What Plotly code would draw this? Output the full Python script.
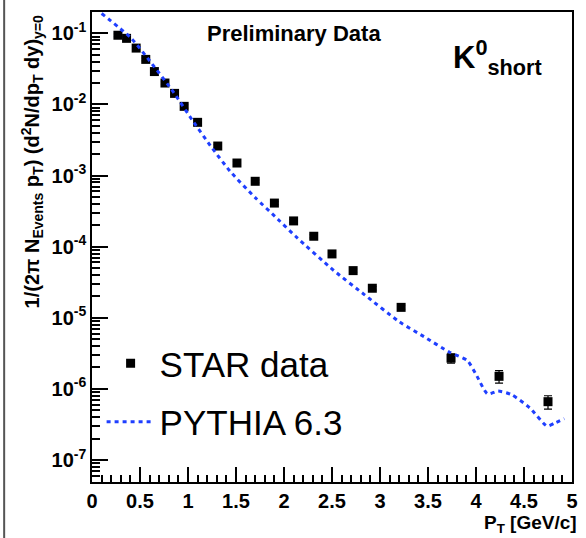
import plotly.graph_objects as go

# STAR data (K0short)
star_pt = [0.27, 0.36, 0.46, 0.56, 0.65, 0.76, 0.86, 0.96, 1.10, 1.31, 1.51, 1.70,
           1.90, 2.10, 2.31, 2.50, 2.72, 2.92, 3.22, 3.74, 4.24, 4.75]
star_y = [0.094, 0.085, 0.062, 0.043, 0.029, 0.020, 0.0143, 0.0094, 0.0056, 0.0026,
          0.0015, 0.00083, 0.00041, 0.00023, 1.4e-4, 7.9e-5, 4.6e-5, 2.6e-5, 1.4e-5,
          2.7e-6, 1.5e-6, 6.6e-7]
star_err = [0.004, 0.004, 0.003, 0.002, 0.0014, 0.001, 0.0007, 0.0005, 0.0003, 0.00013,
            0.00008, 0.00004, 0.00002, 0.00001, 7e-6, 4e-6, 2.5e-6, 1.5e-6, 0.9e-6,
            0.4e-6, 0.3e-6, 1.4e-7]

# PYTHIA 6.3 curve
py_pt = [0.10, 0.41, 0.62, 0.85, 1.06, 1.25, 1.45, 1.70, 1.94, 2.12, 2.52, 2.84,
         3.20, 3.46, 3.72, 3.91, 4.00, 4.12, 4.23, 4.37, 4.56, 4.74, 4.82, 4.92]
py_y = [0.19, 0.085, 0.038, 0.0148, 0.0056, 0.00245, 0.0011, 0.00049, 0.00024, 1.4e-4,
        4.6e-5, 2.1e-5, 8.8e-6, 5.4e-6, 3.3e-6, 2.5e-6, 1.6e-6, 8.5e-7, 9.3e-7, 8.3e-7,
        5.4e-7, 3.0e-7, 3.3e-7, 3.8e-7]

y_exponents = [-7, -6, -5, -4, -3, -2, -1]
y_all_vals = [m * 10.0 ** e for e in range(-8, 0) for m in range(1, 10)]
y_all_text = [("10<sup>%d</sup>" % e) if m == 1 else "" for e in range(-8, 0) for m in range(1, 10)]
y_major_vals = [10.0 ** e for e in y_exponents]
x_tickvals = [0, 0.5, 1, 1.5, 2, 2.5, 3, 3.5, 4, 4.5, 5]
x_ticktext = ["0", "0.5", "1", "1.5", "2", "2.5", "3", "3.5", "4", "4.5", "5"]

FONT = "Liberation Sans, Arial, sans-serif"
Y_RANGE = [-7.31, -0.70]

fig = go.Figure()
fig.add_trace(go.Scatter(
    x=star_pt, y=star_y, mode="markers", name="STAR data", legendgroup="a",
    marker=dict(symbol="square", size=9, color="black"),
    error_y=dict(type="data", array=star_err, color="black", thickness=1.2, width=4),
))
fig.add_trace(go.Scatter(
    x=py_pt, y=py_y, mode="lines", name="PYTHIA 6.3", legendgroup="b",
    line=dict(color="#1f3fff", width=3, dash="4px,4px", shape="spline", smoothing=0.6),
))
# invisible trace carrying the overlay axis for the long decade ticks
fig.add_trace(go.Scatter(
    x=star_pt, y=star_y, mode="markers", yaxis="y2", showlegend=False,
    hoverinfo="skip", marker=dict(opacity=0),
))

fig.update_layout(
    width=586, height=538,
    margin=dict(l=92, r=8, t=12, b=56),
    paper_bgcolor="white", plot_bgcolor="white",
    font=dict(family=FONT, color="black"),
    showlegend=True,
    legend=dict(x=0.02, y=0.315, xanchor="left", yanchor="top",
                font=dict(size=35, family=FONT), bgcolor="rgba(0,0,0,0)",
                tracegroupgap=10, itemwidth=48),
    xaxis=dict(
        range=[0, 5], showgrid=False, zeroline=False,
        showline=True, linecolor="black", linewidth=1.5, mirror=True,
        ticks="inside", ticklen=15, tickcolor="black", tickwidth=1.5,
        tickvals=x_tickvals, ticktext=x_ticktext,
        tickfont=dict(size=20, weight="bold"),
        minor=dict(ticks="inside", ticklen=7, dtick=0.1, tickcolor="black", tickwidth=1.5,
                   showgrid=False),
    ),
    yaxis=dict(
        type="log", range=Y_RANGE, showgrid=False, zeroline=False,
        showline=True, linecolor="black", linewidth=1.5, mirror=True,
        ticks="inside", ticklen=8, tickcolor="black", tickwidth=1.5,
        tickmode="array", tickvals=y_all_vals, ticktext=y_all_text,
        tickfont=dict(size=20, weight="bold"),
    ),
    yaxis2=dict(
        type="log", range=Y_RANGE, overlaying="y", side="left", anchor="x",
        showgrid=False, zeroline=False, showline=False,
        tickmode="array", tickvals=y_major_vals, showticklabels=False,
        ticks="inside", ticklen=16, tickcolor="black", tickwidth=1.5,
    ),
    annotations=[
        dict(text="Preliminary Data", x=0.42, y=0.985, xref="paper", yref="paper",
             xanchor="center", yanchor="top", showarrow=False,
             font=dict(size=22, weight="bold")),
        dict(text="K<sup>0</sup><sub>short</sub>", x=0.845, y=0.955, xref="paper", yref="paper",
             xanchor="center", yanchor="top", showarrow=False,
             font=dict(size=31, weight="bold")),
        dict(text="1/(2π N<sub>Events</sub> p<sub>T</sub>) (d<sup>2</sup>N/dp<sub>T</sub> dy)<sub>y=0</sub>",
             x=-0.125, y=0.68, xref="paper", yref="paper", textangle=-90,
             xanchor="center", yanchor="middle", showarrow=False,
             font=dict(size=20, weight="bold")),
        dict(text="P<sub>T</sub> [GeV/c]", x=1.015, y=-0.06, xref="paper", yref="paper",
             xanchor="right", yanchor="top", showarrow=False,
             font=dict(size=19, weight="bold")),
    ],
    shapes=[
        dict(type="line", xref="paper", yref="paper", x0=-0.183, x1=-0.183, y0=-0.12, y1=1.03,
             line=dict(color="#555555", width=2)),
    ],
)

fig.write_html("out.html")
